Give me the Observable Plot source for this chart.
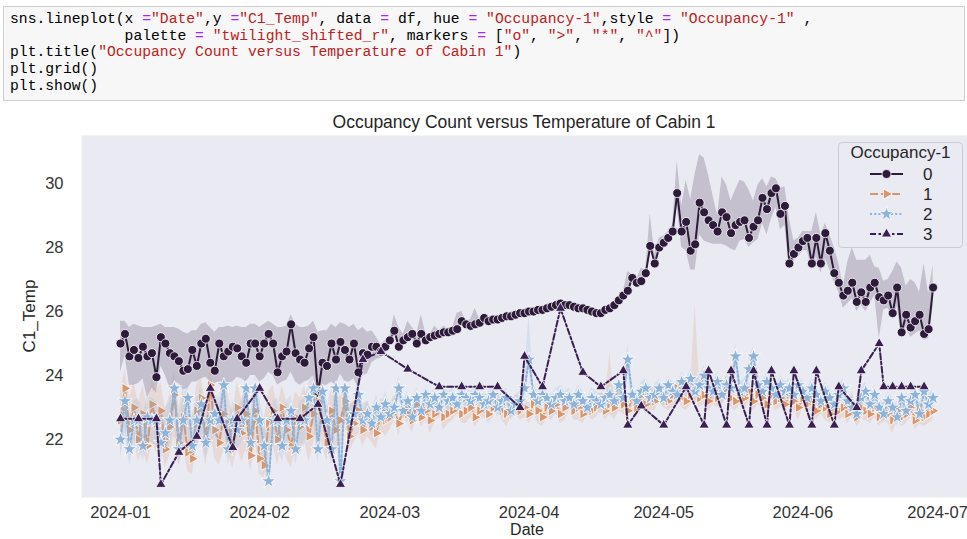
<!DOCTYPE html>
<html><head><meta charset="utf-8">
<script src="https://cdn.jsdelivr.net/npm/d3@7"></script>
<script src="https://cdn.jsdelivr.net/npm/@observablehq/plot@0.6"></script>
<style>
body{margin:0;background:#fff;width:967px;height:539px;overflow:hidden;position:relative;font-family:"Liberation Sans",Arial,sans-serif;}
#code{position:absolute;left:3px;top:6px;width:962px;height:95px;background:#f7f7f7;border:1px solid #cfcfcf;box-sizing:border-box;padding:4px 0 0 6px;font-family:"Liberation Mono","DejaVu Sans Mono",monospace;font-size:14.7px;line-height:16.7px;color:#000;}
#code div{white-space:pre;height:16.7px;}
.s{color:#ba2121}.o{color:#aa22ff}
#title{position:absolute;left:81px;width:886px;top:112px;line-height:20px;text-align:center;font-size:17.5px;color:#262626;}
#chart{position:absolute;left:0;top:105px;}
#ylab{position:absolute;left:-20px;top:306px;width:100px;line-height:20px;text-align:center;font-size:17px;color:#262626;transform:rotate(-90deg);}
#xlab{position:absolute;left:477px;top:521px;width:100px;line-height:18px;height:18px;text-align:center;font-size:16px;color:#262626;}
#legend{position:absolute;left:838px;top:142px;width:125px;height:106px;background:rgba(234,234,242,0.8);border:1px solid #cccccc;border-radius:4px;box-sizing:border-box;}
</style></head>
<body>
<div id="code"><div>sns.lineplot(x <span class="o">=</span><span class="s">"Date"</span>,y <span class="o">=</span><span class="s">"C1_Temp"</span>, data <span class="o">=</span> df, hue <span class="o">=</span> <span class="s">"Occupancy-1"</span>,style <span class="o">=</span> <span class="s">"Occupancy-1"</span> ,</div><div>             palette <span class="o">=</span> <span class="s">"twilight_shifted_r"</span>, markers <span class="o">=</span> [<span class="s">"o"</span>, <span class="s">"&gt;"</span>, <span class="s">"*"</span>, <span class="s">"^"</span>])</div><div>plt.title(<span class="s">"Occupancy Count versus Temperature of Cabin 1"</span>)</div><div>plt.grid()</div><div>plt.show()</div></div>
<div id="title">Occupancy Count versus Temperature of Cabin 1</div>
<div id="chart"></div>
<div id="ylab">C1_Temp</div>
<div id="xlab">Date</div>
<div id="legend"></div>
<script>
// ---- data (daily, starting 2024-01-01) ----
const startDate = "2024-01-01";
const xTickLabels = ["2024-01","2024-02","2024-03","2024-04","2024-05","2024-06","2024-07"];
const yTicks = [22, 24, 26, 28, 30];
const levels = ["0", "1", "2", "3"];
const colors = ["#2e1a3a", "#d8966c", "#8db3da", "#3a1f52"];

// Occupancy 0: mean temperature and CI offsets
const v0 = [25.0,25.3,24.6,24.8,24.55,24.9,24.6,24.7,23.95,25.2,
 25.0,24.7,24.6,24.45,24.15,24.2,24.8,24.3,25.0,25.15,
 24.4,24.15,25.0,24.6,24.75,24.9,24.85,24.6,24.4,25.0,
 25.0,24.6,25.0,25.3,25.0,24.1,24.6,24.75,25.6,24.7,
 24.5,24.4,24.85,25.2,23.45,24.4,24.3,25.0,24.5,25.05,
 24.8,24.5,25.0,24.1,24.7,24.65,24.9,24.9,24.75,24.9,
 25.1,25.4,24.9,25.1,25.2,25.3,25.0,25.3,25.1,25.2,
 25.25,25.3,25.35,25.35,25.4,25.45,25.7,25.6,25.55,25.6,
 25.65,25.8,25.7,25.75,25.75,25.8,25.85,25.85,25.9,25.95,
 25.95,26.0,26.0,26.05,26.05,26.1,26.15,26.2,26.25,26.2,
 26.2,26.15,26.1,26.1,26.05,26.0,25.95,25.95,26.05,26.1,
 26.2,26.35,26.5,26.65,27.05,26.9,26.95,27.2,28.05,27.5,
 28.0,28.15,28.3,28.5,29.7,28.5,28.8,27.9,28.1,29.4,
 29.1,28.85,28.7,28.5,29.1,28.95,28.45,28.7,28.8,28.85,
 28.3,28.65,28.85,29.55,29.2,29.7,29.85,29.05,29.3,27.5,
 27.8,28.0,28.2,28.3,27.5,28.3,27.5,28.45,27.9,27.2,
 26.9,26.5,26.65,26.9,26.3,26.6,26.3,26.75,26.9,26.45,
 26.35,26.5,25.95,26.75,25.35,25.9,25.5,25.7,25.9,25.3,
 25.45,26.75];
const up0 = [.7,.4,.9,.8,1.0,.6,.9,.8,1.6,.4,
 .5,.8,.9,1.0,1.2,1.1,.6,1.1,.6,.5,
 1.1,1.2,.5,.9,.8,.6,.7,.9,1.1,.6,
 .6,.9,.6,.4,.6,1.4,.9,.8,.3,.9,
 1.0,1.1,.7,.5,1.9,1.0,1.1,.6,1.0,.6,
 .8,1.0,.6,1.3,.8,.7,.5,.3,.2,.2,
 .1,.5,.6,.2,.5,.2,.3,.6,.2,.1,
 .3,.1,.2,.1,.1,.5,.3,.1,.2,.5,
 .1,.1,.1,.1,.1,.1,.1,.1,.1,.1,
 .1,.1,.1,.1,.1,.1,.1,.1,.1,.1,
 .1,.1,.1,.1,.1,.1,.1,.1,.1,.1,
 .1,.1,.1,.6,.1,.1,.4,.1,1.0,.3,
 .3,.2,.2,.2,1.0,.8,1.3,1.6,2.2,1.5,
 1.7,1.4,.9,.5,1.1,1.0,1.0,1.1,1.3,1.2,
 1.5,.8,1.1,.6,.7,.5,.3,.8,.6,1.4,
 .4,.3,.3,.2,1.0,.8,.9,.3,.5,.8,
 .6,.3,.9,1.1,1.3,1.0,1.3,1.0,.5,.9,
 .6,.5,1.3,.8,2.0,.9,1.5,1.2,.7,2.2,
 1.1,.7];
const dn0 = [.9,.7,.9,1.1,.8,1.0,1.3,1.1,.5,.9,
 1.0,1.1,.8,.7,.6,.6,1.0,.5,1.1,1.2,
 .6,.4,1.2,.8,1.0,1.1,.9,.7,.6,1.0,
 1.0,.8,1.1,1.2,1.0,.4,.8,.9,1.5,.9,
 .8,.6,1.0,1.2,.3,.7,.6,1.2,.8,1.0,
 1.0,.7,1.1,.5,.7,.6,.5,.4,.2,.2,
 .05,.05,.05,.05,.05,.05,.05,.05,.05,.05,
 .05,.05,.05,.05,.05,.05,.05,.05,.05,.05,
 .05,.05,.05,.05,.05,.05,.05,.05,.05,.05,
 .05,.05,.05,.05,.05,.05,.05,.05,.05,.05,
 .05,.05,.05,.05,.05,.05,.05,.05,.05,.05,
 .05,.05,.05,.05,.05,.05,.05,.05,.05,.05,
 .1,.1,.1,.1,.4,.5,.9,.6,.8,1.0,
 .9,.7,.6,.4,1.0,.9,.5,.8,.6,.6,
 .3,.5,.6,.8,.8,.8,.6,.5,.6,.2,
 .2,.3,.3,.4,.2,.6,.3,.8,.6,.3,
 .3,.4,.4,.5,.3,.4,.3,.5,.4,1.3,
 .3,.4,.2,.6,.2,.4,.3,.4,.5,.2,
 .3,.6];

// Occupancy 1
const v1 = [22.6,23.6,22.3,23.0,22.0,22.8,21.8,23.1,22.5,22.9,
 21.7,22.4,23.4,21.9,22.7,21.6,21.4,22.9,23.3,22.0,
 23.7,22.3,21.9,22.8,22.6,21.7,23.0,22.2,22.8,21.5,
 22.9,21.4,21.2,22.5,22.9,22.0,23.0,22.3,21.8,22.7,
 22.4,23.0,22.1,22.8,23.2,22.6,21.9,22.9,22.3,22.6,
 23.2,22.1,22.5,22.9,22.3,22.7,22.4,22.2,22.9,22.6,
 22.7,22.9,22.5,23.0,22.8,22.6,23.1,22.7,22.9,22.6,
 22.8,23.0,22.7,22.8,22.9,23.1,22.8,22.9,23.0,22.7,
 22.9,23.1,22.8,23.0,23.2,22.9,22.8,23.0,23.1,22.9,
 23.0,22.8,23.1,22.9,22.7,23.0,22.9,23.1,22.8,23.0,
 23.2,22.9,23.0,22.8,23.1,22.9,23.0,23.2,22.9,23.1,
 23.0,23.2,23.1,22.9,23.3,23.0,23.4,23.1,23.3,23.2,
 23.5,23.3,23.2,23.4,23.6,23.3,23.2,23.4,23.5,23.3,
 23.4,23.2,23.5,23.3,23.4,23.6,23.3,23.2,23.4,23.3,
 23.5,23.2,23.4,23.3,23.1,23.4,23.2,23.3,23.1,23.4,
 23.2,23.0,23.3,23.1,23.2,22.9,23.1,23.0,22.8,23.1,
 22.9,23.0,22.8,23.1,22.7,23.0,22.9,22.8,23.0,22.7,
 22.9,22.8,22.6,22.9,22.7,22.8,23.0,22.6,22.9,22.7,
 22.8,22.9];
const up1 = [.9,.6,1.0,.8,1.1,.9,1.2,.8,1.0,.9,
 1.2,1.0,.7,1.1,.9,1.2,1.3,.8,.7,1.0,
 .6,1.0,1.2,.9,.8,1.1,.8,1.0,.9,1.3,
 .9,1.3,1.4,1.0,.8,1.0,.7,.9,1.1,.8,
 .9,.7,.9,.7,.6,.8,1.0,.7,.9,.8,
 .6,.9,.7,.5,.6,.5,.5,.6,.4,.5,
 .4,.5,.4,.3,.5,.4,.3,.4,.3,.5,
 .3,.4,.3,.5,.3,.3,.4,.3,.3,.4,
 .3,.3,.4,.3,.3,.5,.3,.3,.3,.4,
 .3,.3,.3,.3,.4,.3,.3,.3,.4,.3,
 .3,.3,.3,.4,.3,.3,.3,.3,.4,1.6,
 .3,.4,.3,.3,.3,.3,.3,.4,.3,.3,
 .3,.4,.3,.3,.3,.3,.4,.3,2.7,.4,
 .3,.4,.3,.3,.3,.4,.3,.3,.3,.3,
 .3,.3,.4,.3,.3,.3,.4,.3,.3,.3,
 .3,.3,.3,.3,.4,.3,.3,.3,.3,.3,
 .3,.3,.3,.4,.3,.3,.3,.4,.3,.3,
 .3,.3,.3,.3,.3,.4,.3,.3,.3,.3,
 .3,.3];
const dn1 = [1.0,1.2,.8,1.0,.7,1.1,.6,1.2,.9,1.0,
 .6,.9,1.3,.7,1.0,.6,.5,1.1,1.3,.8,
 1.4,.9,.7,1.1,1.0,.6,1.2,.9,1.1,.5,
 1.0,.5,.4,.9,1.1,.8,1.1,.9,.7,1.0,
 .9,1.0,.8,.9,.9,.8,.6,.8,.7,.8,
 .8,.5,.6,.7,.5,.6,.5,.5,.6,.5,
 .4,.3,.4,.3,.3,.4,.3,.3,.3,.4,
 .3,.3,.4,.3,.3,.3,.3,.4,.3,.3,
 .3,.4,.3,.3,.3,.3,.4,.3,.3,.3,
 .3,.3,.3,.4,.3,.3,.3,.3,.3,.4,
 .3,.3,.4,.3,.3,.3,.3,.3,.3,.3,
 .4,.3,.3,.3,.3,.3,.3,.3,.4,.3,
 .3,.3,.3,.4,.3,.3,.3,.3,.3,.3,
 .3,.3,.4,.3,.3,.3,.3,.3,.3,.4,
 .3,.3,.3,.3,.4,.3,.3,.3,.3,.3,
 .3,.4,.3,.3,.3,.3,.3,.4,.3,.3,
 .3,.3,.3,.3,.3,.4,.3,.3,.3,.3,
 .3,.3,.4,.3,.3,.3,.3,.3,.4,.3,
 .3,.3];

// Occupancy 2
const v2 = [22.0,23.2,21.7,22.6,22.6,21.8,22.7,22.6,22.6,21.9,
 22.2,22.6,23.6,21.7,22.6,23.3,21.8,22.6,23.1,21.9,
 22.6,22.8,22.6,23.7,21.7,22.6,22.3,22.6,23.6,21.9,
 23.6,22.6,21.8,20.7,22.6,22.6,21.8,22.6,22.9,21.7,
 22.6,22.6,23.3,23.6,21.7,23.5,22.6,21.7,23.6,20.7,
 23.6,22.6,22.8,23.4,22.6,22.8,22.5,23.0,22.7,23.1,
 22.8,23.0,23.6,22.9,23.2,22.7,23.3,22.9,23.4,23.1,
 23.3,23.0,23.4,23.2,23.3,23.1,23.4,23.3,23.2,23.4,
 23.3,23.1,23.2,23.4,23.0,23.2,23.3,22.9,23.1,23.2,
 23.6,24.5,23.4,23.2,23.4,23.3,23.1,23.3,23.4,23.2,
 23.3,23.1,23.4,23.2,23.0,23.3,23.2,23.1,23.3,23.4,
 23.2,23.7,23.3,24.5,23.4,23.2,23.5,23.6,23.3,23.4,
 23.6,23.3,23.7,23.5,23.4,23.8,23.6,23.9,23.5,23.7,
 24.0,23.6,23.5,23.8,23.4,23.7,23.6,24.6,23.5,23.6,
 24.2,24.6,23.7,23.5,23.8,23.6,23.4,23.7,23.5,23.6,
 23.4,23.7,23.5,23.3,23.6,23.4,23.2,23.5,23.3,23.1,
 23.4,23.6,23.2,23.0,22.8,23.3,23.5,23.1,23.4,23.0,
 22.8,23.2,23.0,22.7,23.3,22.9,23.2,23.4,22.8,23.5,
 23.1,23.3];
const up2 = [.8,.5,1.0,.6,.7,1.0,.6,.7,.6,.9,
 .8,.6,.4,1.0,.7,.5,.9,.7,.5,.8,
 .6,.6,.7,.4,.9,.6,.7,.6,.4,.8,
 .4,.7,.8,1.1,.6,.7,.9,.6,.5,.9,
 .6,.7,.5,.4,.9,.5,.6,.9,.4,1.0,
 .4,.5,.4,.4,.5,.4,.4,.4,.3,.4,
 .3,.3,.4,.3,.3,.3,.3,.3,.3,.3,
 .3,.3,.3,.3,.3,.3,.3,.3,.3,.3,
 .3,.3,.3,.3,.3,.3,.3,.3,.3,.3,
 .5,1.4,.3,.3,.3,.3,.3,.3,.3,.3,
 .3,.3,.3,.3,.3,.3,.3,.3,.3,.3,
 .3,.3,.3,.5,.3,.3,.3,.3,.3,.3,
 .3,.3,.3,.3,.3,.3,.3,.3,.3,.3,
 .3,.3,.3,.3,.3,.3,.3,.4,.3,.3,
 .3,.3,.3,.3,.3,.3,.3,.3,.3,.3,
 .3,.3,.3,.3,.3,.3,.3,.3,.3,.3,
 .3,.3,.3,.3,.3,.3,.3,.3,.3,.3,
 .3,.3,.3,.3,.3,.3,.3,.3,.3,.3,
 .3,.3];
const dn2 = [.6,1.0,.5,.8,.7,.5,.8,.7,.8,.5,
 .6,.8,1.1,.5,.8,1.0,.5,.8,.9,.5,
 .8,.7,.8,1.1,.5,.8,.6,.7,1.0,.5,
 1.0,.8,.6,.3,.7,.8,.5,.8,.8,.5,
 .7,.8,.9,1.0,.5,.9,.8,.5,1.0,.3,
 .9,.5,.5,.6,.4,.4,.4,.4,.3,.4,
 .3,.3,.3,.3,.3,.3,.3,.3,.3,.3,
 .3,.3,.3,.3,.3,.3,.3,.3,.3,.3,
 .3,.3,.3,.3,.3,.3,.3,.3,.3,.3,
 .3,.3,.3,.3,.3,.3,.3,.3,.3,.3,
 .3,.3,.3,.3,.3,.3,.3,.3,.3,.3,
 .3,.3,.3,.3,.3,.3,.3,.3,.3,.3,
 .3,.3,.3,.3,.3,.3,.3,.3,.3,.3,
 .3,.3,.3,.3,.3,.3,.3,.3,.3,.3,
 .3,.3,.3,.3,.3,.3,.3,.3,.3,.3,
 .3,.3,.3,.3,.3,.3,.3,.3,.3,.3,
 .3,.3,.3,.3,.3,.3,.3,.3,.3,.3,
 .3,.3,.3,.3,.3,.3,.3,.3,.3,.3,
 .3,.3];

// Occupancy 3 (sparse observations: day index since start, value)
const days3 = [0,4,8,9,13,17,20,25,26,31,35,40,44,49,54,58,64,71,76,80,
 84,89,90,94,98,103,107,112,113,116,121,126,130,131,135,136,140,141,144,145,
 149,150,154,155,159,160,164,165,169,170,172,174,176,179];
const v3 = [22.65,22.65,22.65,20.6,21.6,22.1,23.6,21.75,22.65,23.6,
 22.65,22.65,23.1,20.6,24.5,24.75,24.2,23.65,23.65,23.65,
 23.65,23.0,24.6,23.65,26.1,24.1,23.65,24.15,22.45,23.05,
 22.45,23.65,22.45,24.15,22.45,24.15,22.45,24.15,22.45,24.15,
 22.45,24.15,22.45,24.15,22.45,23.65,23.0,24.15,25.0,23.65,
 23.65,23.65,23.65,23.65];

// ---- build ----
const t0 = d3.utcParse("%Y-%m-%d")(startDate);
const day = i => d3.utcDay.offset(t0, i);
const rows = (v, up, dn) => v.map((y, i) => ({date: day(i), y, lo: y - dn[i], hi: y + up[i]}));
const s0 = rows(v0, up0, dn0), s1 = rows(v1, up1, dn1), s2 = rows(v2, up2, dn2);
const s3 = days3.map((d, i) => ({date: day(d), y: v3[i]}));
const xTicks = xTickLabels.map(d3.utcParse("%Y-%m"));

const dashes = [null, "8,3", "2,2.2", "6,2.5,2.5,2.5"];
const symbols = ["circle", "triangle", "star", "triangle"];
const rot = [0, 90, 0, 0];
const rs = [4.5, 3.8, 4.6, 3.8];

const band = (s, k) => Plot.areaY(s, {x: "date", y1: "lo", y2: "hi", fill: colors[k], fillOpacity: 0.2, curve: "linear", clip: true});
const line = (s, k) => Plot.line(s, {x: "date", y: "y", stroke: colors[k], strokeWidth: 2, strokeDasharray: dashes[k], clip: true});
const dots = (s, k) => Plot.dot(s, {x: "date", y: "y", symbol: symbols[k], rotate: rot[k], r: rs[k], fill: colors[k], stroke: "white", strokeWidth: 0.8, clip: true});

const chart = Plot.plot({
  width: 967, height: 434,
  marginLeft: 81, marginRight: 0, marginTop: 30, marginBottom: 42,
  style: {fontSize: "16.5px", fontFamily: "Liberation Sans, Arial, sans-serif", color: "#333", background: "transparent", overflow: "visible"},
  x: {type: "utc", domain: [new Date(Date.UTC(2023, 11, 23, 7, 30)), new Date(Date.UTC(2024, 6, 7, 16, 0))],
      ticks: xTicks, tickFormat: d3.utcFormat("%Y-%m"), tickSize: 0, tickPadding: 8.5, label: null},
  y: {domain: [20.19, 31.5], ticks: yTicks, tickSize: 0, tickPadding: 18, label: null},
  marks: [
    Plot.frame({fill: "#EAEAF2", stroke: "none"}),
    band(s0, 0), line(s0, 0), dots(s0, 0),
    band(s1, 1), line(s1, 1), dots(s1, 1),
    band(s2, 2), line(s2, 2), dots(s2, 2),
    line(s3, 3), dots(s3, 3)
  ]
});
document.getElementById("chart").appendChild(chart);

// ---- legend ----
const lg = d3.select("#legend");
lg.append("div").text("Occupancy-1")
  .style("position", "absolute").style("left", "0").style("width", "123px").style("top", "0px")
  .style("text-align", "center").style("font-size", "17px").style("line-height", "20px").style("color", "#262626");
const svg = lg.append("svg").attr("width", 123).attr("height", 104).style("position", "absolute").style("left", "0").style("top", "0");
const symMap = {circle: d3.symbolCircle, triangle: d3.symbolTriangle, star: d3.symbolStar};
levels.forEach((lab, k) => {
  const y = 31 + k * 20;
  svg.append("line").attr("x1", 31).attr("x2", 64).attr("y1", y).attr("y2", y)
    .attr("stroke", colors[k]).attr("stroke-width", 2).attr("stroke-dasharray", dashes[k]);
  svg.append("path").attr("d", d3.symbol(symMap[symbols[k]], Math.PI * rs[k] * rs[k])())
    .attr("transform", `translate(47.5,${y}) rotate(${rot[k]})`)
    .attr("fill", colors[k]).attr("stroke", "white").attr("stroke-width", 0.8);
  svg.append("text").attr("x", 84).attr("y", y).attr("dy", "0.35em").text(lab)
    .attr("font-size", 17).attr("fill", "#262626").attr("font-family", "Liberation Sans, Arial, sans-serif");
});
</script>
</body></html>
